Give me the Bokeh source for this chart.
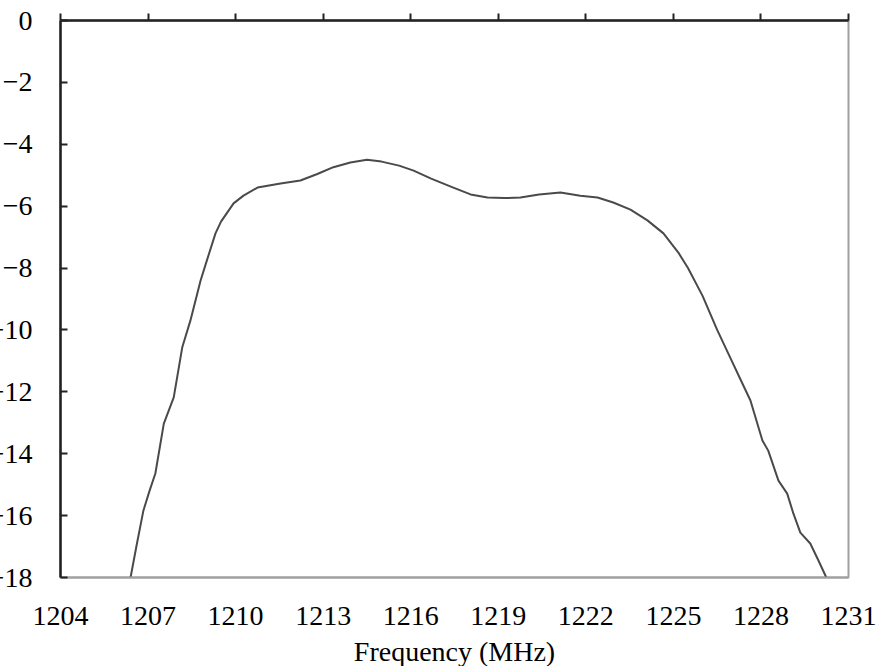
from bokeh.plotting import figure
from bokeh.models import LinearAxis, FixedTicker, Range1d
from bokeh.embed import file_html
from bokeh.resources import INLINE

freq = [1206.40, 1206.60, 1206.84, 1207.05, 1207.25, 1207.54, 1207.88, 1208.17, 1208.45, 1208.80,
        1209.00, 1209.31, 1209.50, 1209.93, 1210.27, 1210.75, 1211.54, 1212.22, 1212.80, 1213.35,
        1213.93, 1214.50, 1215.00, 1215.60, 1216.10, 1216.70, 1217.46, 1218.05, 1218.63, 1219.20,
        1219.76, 1220.40, 1221.13, 1221.81, 1222.40, 1222.94, 1223.53, 1224.11, 1224.66, 1225.17,
        1225.50, 1226.00, 1226.50, 1227.00, 1227.30, 1227.64, 1228.05, 1228.25, 1228.60, 1228.90,
        1229.11, 1229.35, 1229.69, 1229.97, 1230.24]
gain = [-18.0, -17.0, -15.84, -15.2, -14.64, -13.03, -12.18, -10.57, -9.7, -8.4,
        -7.8, -6.88, -6.5, -5.91, -5.66, -5.40, -5.27, -5.17, -4.96, -4.74,
        -4.59, -4.50, -4.56, -4.69, -4.85, -5.11, -5.40, -5.62, -5.72, -5.74,
        -5.72, -5.62, -5.56, -5.66, -5.72, -5.88, -6.11, -6.46, -6.88, -7.50,
        -8.0, -8.9, -10.0, -11.0, -11.6, -12.28, -13.57, -13.9, -14.87, -15.29,
        -15.93, -16.55, -16.9, -17.45, -18.0]

x_ticks = [1204, 1207, 1210, 1213, 1216, 1219, 1222, 1225, 1228, 1231]
y_ticks = [0, -2, -4, -6, -8, -10, -12, -14, -16, -18]
x_label = "Frequency (MHz)"

FONT = "Liberation Serif"
FS = "28px"

p = figure(frame_width=788, frame_height=557, output_backend="svg", toolbar_location=None,
           x_range=Range1d(1204, 1231), y_range=Range1d(-18, 0),
           x_axis_location="below", y_axis_location="left",
           min_border_top=20, min_border_right=28, min_border_left=0, min_border_bottom=0)
p.margin = (0, 0, -6, -15)
p.background_fill_color = "white"
p.border_fill_color = "white"
p.grid.visible = False
p.outline_line_color = "#a0a0a0"
p.outline_line_width = 2

p.line(freq, gain, line_color="#4a4a4a", line_width=2, line_join="round")

# bottom axis: labels only
xa = p.xaxis[0]
xa.ticker = FixedTicker(ticks=x_ticks)
xa.axis_line_color = "#a0a0a0"
xa.axis_line_width = 2
xa.major_tick_line_color = None
xa.minor_tick_line_color = None
xa.major_label_text_font = FONT
xa.major_label_text_font_size = FS
xa.major_label_text_color = "black"
xa.major_label_standoff = 23
xa.axis_label = x_label
xa.axis_label_text_font = FONT
xa.axis_label_text_font_size = FS
xa.axis_label_text_font_style = "normal"
xa.axis_label_text_color = "black"
xa.axis_label_standoff = 8

# left axis: inward ticks
ya = p.yaxis[0]
ya.ticker = FixedTicker(ticks=y_ticks)
ya.axis_line_color = "#222222"
ya.axis_line_width = 2.5
ya.major_tick_in = 7
ya.major_tick_out = 0
ya.major_tick_line_color = "#222222"
ya.major_tick_line_width = 2
ya.minor_tick_line_color = None
ya.major_label_text_font = FONT
ya.major_label_text_font_size = FS
ya.major_label_text_color = "black"
ya.major_label_standoff = 28

# top axis: outward ticks, no labels
ta = LinearAxis(ticker=FixedTicker(ticks=x_ticks))
ta.axis_line_color = "#222222"
ta.axis_line_width = 2.5
ta.major_tick_in = 0
ta.major_tick_out = 7
ta.major_tick_line_color = "#222222"
ta.major_tick_line_width = 2
ta.minor_tick_line_color = None
ta.major_label_overrides = {t: "" for t in x_ticks}
ta.major_label_standoff = 0
p.add_layout(ta, "above")

open("out.html", "w").write(file_html(p, INLINE))
